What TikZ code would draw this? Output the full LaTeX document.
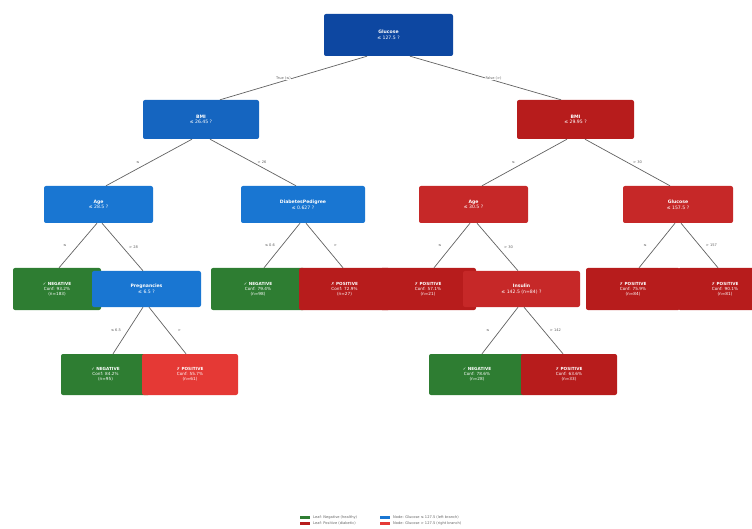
\documentclass[tikz,border=0pt]{standalone}
\usepackage{fontspec}
\setmainfont{DejaVu Sans}
\definecolor{rootc}{HTML}{0D47A1}
\definecolor{blueA}{HTML}{1565C0}
\definecolor{blueB}{HTML}{1976D2}
\definecolor{redA}{HTML}{B71C1C}
\definecolor{redB}{HTML}{C62828}
\definecolor{negc}{HTML}{2E7D32}
\definecolor{posc}{HTML}{B71C1C}
\definecolor{posb}{HTML}{E53935}
\definecolor{edgec}{HTML}{616161}
\tikzset{
  tbox/.style={rounded corners=2pt, text=white, align=center, inner sep=0pt,
    font=\fontsize{4.6}{5.6}\selectfont},
  leafbox/.style={tbox, minimum height=42, font=\fontsize{4.2}{5.2}\selectfont},
  conn/.style={draw=edgec, line width=0.7pt},
  elabel/.style={fill=white, inner sep=0.6pt, text=edgec, font=\fontsize{3.6}{4}\selectfont},
  legtext/.style={anchor=west, inner sep=0pt, text=edgec, font=\fontsize{3.6}{4}\selectfont}
}
\begin{document}
\begin{tikzpicture}[x=1pt,y=-1pt]
\useasboundingbox (0,0) rectangle (752,529);
% level 0
\node[tbox, fill=rootc, minimum width=129, minimum height=42] (root) at (388.5,35) {\textbf{Glucose}\\≤ 127.5 ?};
% level 1
\node[tbox, fill=blueA, minimum width=116, minimum height=39] (bmiL) at (201,119.5) {\textbf{BMI}\\≤ 26.45 ?};
\node[tbox, fill=redA, minimum width=117, minimum height=39] (bmiR) at (575.5,119.5) {\textbf{BMI}\\≤ 29.95 ?};
% level 2
\node[tbox, fill=blueB, minimum width=109, minimum height=37] (ageL) at (98.5,204.5) {\textbf{Age}\\≤ 28.5 ?};
\node[tbox, fill=blueB, minimum width=124, minimum height=37] (dp) at (303,204.5) {\textbf{DiabetesPedigree}\\≤ 0.627 ?};
\node[tbox, fill=redB, minimum width=109, minimum height=37] (ageR) at (473.5,204.5) {\textbf{Age}\\≤ 30.5 ?};
\node[tbox, fill=redB, minimum width=110, minimum height=37] (gluR) at (678,204.5) {\textbf{Glucose}\\≤ 157.5 ?};
% level 3
\node[leafbox, fill=negc, minimum width=88] (leafA) at (57,289) {\textbf{✓ NEGATIVE}\\Conf: 93.2\%\\(n=183)};
\node[tbox, fill=blueB, minimum width=109, minimum height=36] (preg) at (146.5,289) {\textbf{Pregnancies}\\≤ 6.5 ?};
\node[leafbox, fill=negc, minimum width=94] (leafB) at (258,289) {\textbf{✓ NEGATIVE}\\Conf: 79.4\%\\(n=98)};
\node[leafbox, fill=posc, minimum width=91] (leafC) at (344.5,289) {\textbf{✗ POSITIVE}\\Conf: 72.9\%\\(n=27)};
\node[leafbox, fill=posc, minimum width=96] (leafD) at (428,289) {\textbf{✗ POSITIVE}\\Conf: 57.1\%\\(n=21)};
\node[tbox, fill=redB, minimum width=117, minimum height=36] (ped) at (521.5,289) {\textbf{Insulin}\\≤ 142.5 (n=84) ?};
\node[leafbox, fill=posc, minimum width=94] (leafE) at (633,289) {\textbf{✗ POSITIVE}\\Conf: 75.9\%\\(n=84)};
\node[leafbox, fill=posc, minimum width=94] (leafF) at (725,289) {\textbf{✗ POSITIVE}\\Conf: 90.1\%\\(n=81)};
% level 4
\node[leafbox, fill=negc, minimum width=89, minimum height=41] (leafG) at (105.5,374.5) {\textbf{✓ NEGATIVE}\\Conf: 84.2\%\\(n=95)};
\node[leafbox, fill=posb, minimum width=96, minimum height=41] (leafH) at (190,374.5) {\textbf{✗ POSITIVE}\\Conf: 55.7\%\\(n=61)};
\node[leafbox, fill=negc, minimum width=96, minimum height=41] (leafI) at (477,374.5) {\textbf{✓ NEGATIVE}\\Conf: 78.6\%\\(n=28)};
\node[leafbox, fill=posc, minimum width=96, minimum height=41] (leafJ) at (569,374.5) {\textbf{✗ POSITIVE}\\Conf: 63.6\%\\(n=33)};
% connectors
\draw[conn] ([xshift=-21.5]root.south) -- node[elabel, xshift=-10] {True (≤)} ([xshift=19]bmiL.north);
\draw[conn] ([xshift=21.5]root.south) -- node[elabel, xshift=8] {False (>)} ([xshift=-14.5]bmiR.north);
\draw[conn] ([xshift=-9]bmiL.south) -- node[elabel, xshift=-11] {≤} ([xshift=7.5]ageL.north);
\draw[conn] ([xshift=9]bmiL.south) -- node[elabel, xshift=9] {> 26} ([xshift=-7]dp.north);
\draw[conn] ([xshift=-8.5]bmiR.south) -- node[elabel, xshift=-11] {≤} ([xshift=8.5]ageR.north);
\draw[conn] ([xshift=9.5]bmiR.south) -- node[elabel, xshift=10] {> 30} ([xshift=-8]gluR.north);
\draw[conn] ([xshift=-1.5]ageL.south) -- node[elabel, xshift=-13] {≤} ([xshift=2]leafA.north);
\draw[conn] ([xshift=3.5]ageL.south) -- node[elabel, xshift=11] {> 28} ([xshift=-3.5]preg.north);
\draw[conn] ([xshift=-3]dp.south) -- node[elabel, xshift=-12] {≤ 0.6} ([xshift=6]leafB.north);
\draw[conn] ([xshift=3]dp.south) -- node[elabel, xshift=11] {>} ([xshift=-1.5]leafC.north);
\draw[conn] ([xshift=-3.5]ageR.south) -- node[elabel, xshift=-12] {≤} ([xshift=6]leafD.north);
\draw[conn] ([xshift=3.5]ageR.south) -- node[elabel, xshift=11] {> 30} ([xshift=-3.5]ped.north);
\draw[conn] ([xshift=-3]gluR.south) -- node[elabel, xshift=-12] {≤} ([xshift=6]leafE.north);
\draw[conn] ([xshift=3]gluR.south) -- node[elabel, xshift=12] {> 157} ([xshift=-7]leafF.north);
\draw[conn] ([xshift=-3.5]preg.south) -- node[elabel, xshift=-12] {≤ 6.5} ([xshift=7.5]leafG.north);
\draw[conn] ([xshift=2.5]preg.south) -- node[elabel, xshift=12] {>} ([xshift=-4]leafH.north);
\draw[conn] ([xshift=-3.5]ped.south) -- node[elabel, xshift=-12] {≤} ([xshift=5]leafI.north);
\draw[conn] ([xshift=2.5]ped.south) -- node[elabel, xshift=12] {> 142} ([xshift=-6]leafJ.north);
% legend
\fill[negc] (300,515.5) rectangle (310,519);
\node[legtext] (lg1) at (313,517.3) {Leaf: Negative (healthy)};
\fill[posc] (300,521.5) rectangle (310,525);
\node[legtext] (lg2) at (313,523.3) {Leaf: Positive (diabetic)};
\fill[blueB] (380,515.5) rectangle (390,519);
\node[legtext] (lg3) at (393,517.3) {Node: Glucose ≤ 127.5 (left branch)};
\fill[posb] (380,521.5) rectangle (390,525);
\node[legtext] (lg4) at (393,523.3) {Node: Glucose > 127.5 (right branch)};
\end{tikzpicture}
\end{document}
